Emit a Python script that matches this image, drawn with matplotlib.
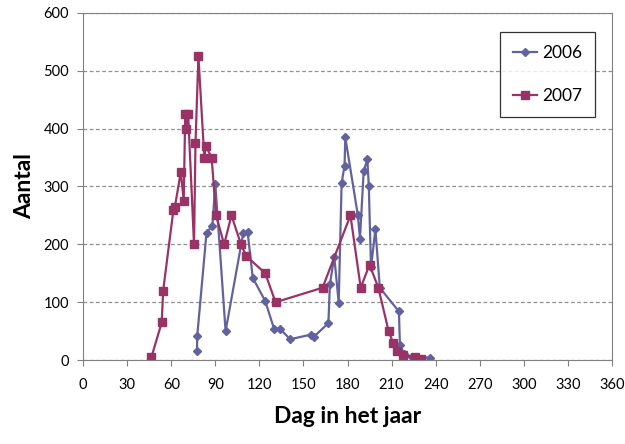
import matplotlib.pyplot as plt

plt.rcParams['font.family'] = ['Lato', 'DejaVu Sans']

# 2006 series (day of year, count)
days_2006 = [77.5, 77.7, 84, 88, 90, 97, 109, 112, 115.5, 124, 130, 134, 141,
             155, 157, 167, 168, 171, 174, 176, 178, 178.5, 187, 188.5, 191,
             193.5, 194.5, 196, 199, 202, 215, 215.7, 218.5, 224, 236.5]
count_2006 = [15, 42, 220, 232, 304, 50, 219, 221, 142, 102, 54, 54, 36,
              44, 40, 64, 131, 179, 99, 306, 336, 385, 251, 210, 326,
              347, 301, 160, 226, 125, 84, 26, 11, 6, 4]

# 2007 series
days_2007 = [46.5, 53.5, 54.5, 61.5, 62.5, 66.5, 68.5, 69.5, 70.2, 71.5, 75.5,
             76.5, 78.5, 82.5, 83.5, 87.5, 90.5, 96, 101, 107.5, 111, 124, 131,
             163, 182, 189, 195, 201, 208, 211, 214, 218, 226, 230]
count_2007 = [5, 65, 120, 260, 265, 325, 275, 425, 400, 425, 200,
              375, 525, 350, 370, 350, 250, 200, 250, 200, 180, 150, 100,
              125, 250, 125, 165, 125, 50, 30, 15, 8, 5, 2]

x_ticks = list(range(0, 361, 30))
y_ticks = list(range(0, 601, 100))

fig = plt.figure(figsize=(6.25, 4.44), dpi=100)
ax = fig.add_axes([0.133, 0.189, 0.846, 0.782])

ax.plot(days_2006, count_2006, color='#62629f', lw=1.6, marker='D',
        markersize=4.5, label='2006')
ax.plot(days_2007, count_2007, color='#993366', lw=1.6, marker='s',
        markersize=6, label='2007')

ax.set_xlim(0, 360)
ax.set_ylim(0, 600)
ax.set_xticks(x_ticks)
ax.set_yticks(y_ticks)
ax.tick_params(direction='out', length=4, color='#808080', labelsize=10.5)
ax.tick_params(axis='x', pad=9)
ax.tick_params(axis='y', pad=6)
for s in ax.spines.values():
    s.set_color('#808080')
ax.yaxis.grid(True, linestyle=(0, (3, 2)), color='#909090', lw=0.9)
ax.set_axisbelow(True)

ax.set_xlabel('Dag in het jaar', fontsize=16.5, fontweight='bold', labelpad=10)
ax.set_ylabel('Aantal', fontsize=16.5, fontweight='bold', labelpad=6)

leg = ax.legend(loc='upper left', bbox_to_anchor=(0.788, 0.945), fontsize=12.5,
                frameon=True, fancybox=False, edgecolor='black',
                borderpad=0.75, labelspacing=1.55, handlelength=1.4,
                handletextpad=0.3, borderaxespad=0)
leg.get_frame().set_linewidth(0.9)

fig.savefig('out.png', dpi=100)
